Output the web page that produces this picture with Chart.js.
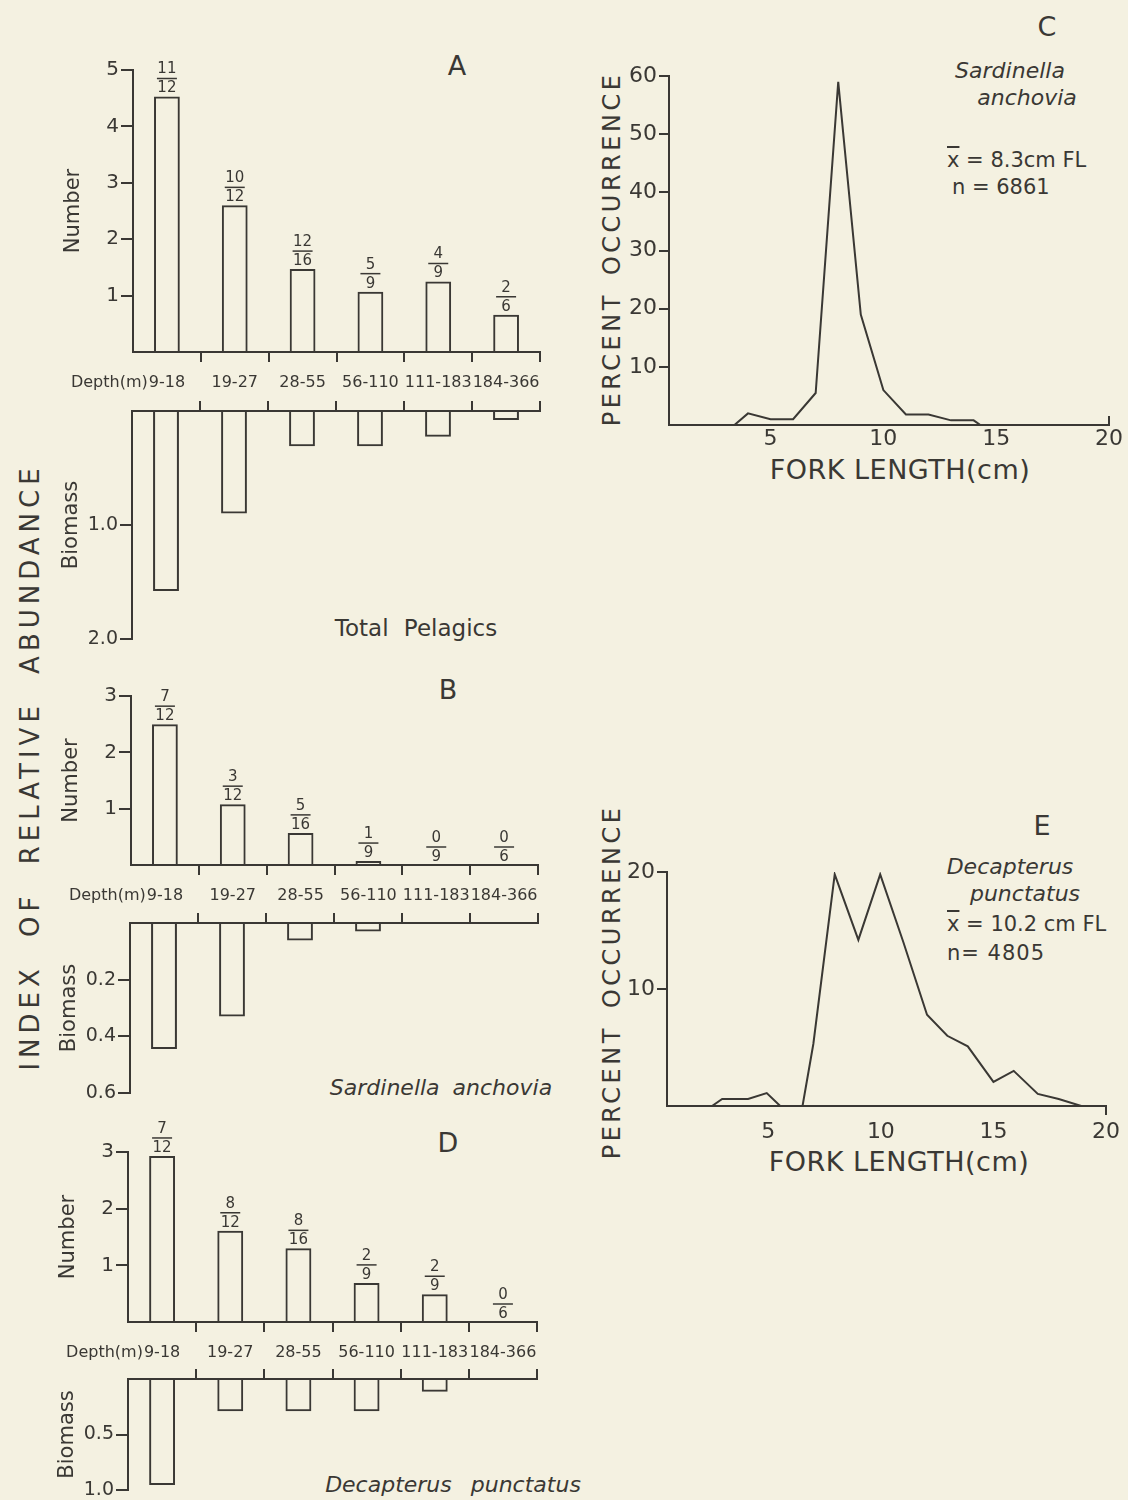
<!DOCTYPE html>
<html>
<head>
<meta charset="utf-8">
<script src="https://cdn.jsdelivr.net/npm/chart.js@4.4.0/dist/chart.umd.min.js"></script>
<style>
  body { margin: 0; background: #f4f1e1; }
  #page { position: relative; width: 1128px; height: 1500px; overflow: hidden; background: #f4f1e1;
          font-family: "DejaVu Sans", sans-serif; color: #3a3834; }
  canvas { position: absolute; }
  .t { position: absolute; white-space: nowrap; transform: translate(-50%, -50%); }
  .l { position: absolute; white-space: nowrap; transform: translate(0, -50%); }
  .v { position: absolute; white-space: nowrap; transform: translate(-50%, -50%) rotate(-90deg); }
  .i { font-style: italic; }
  .letter { font-size: 27px; }
  .ov { text-decoration: overline; }
</style>
</head>
<body>
<div id="page">
  <!-- panel letters -->
  <div class="t letter" style="left:457px;top:65px">A</div>
  <div class="t letter" style="left:448px;top:689px">B</div>
  <div class="t letter" style="left:448px;top:1142px">D</div>
  <div class="t letter" style="left:1047px;top:26px">C</div>
  <div class="t letter" style="left:1042px;top:825px">E</div>

  <!-- big side title -->
  <div class="v" style="left:30px;top:767px;font-size:26px;letter-spacing:5px;word-spacing:14px">INDEX OF RELATIVE ABUNDANCE</div>

  <!-- species captions, left column -->
  <div class="t" style="left:416px;top:628px;font-size:23px;word-spacing:8px">Total Pelagics</div>
  <div class="t i" style="left:441px;top:1087px;font-size:22px;word-spacing:6px">Sardinella anchovia</div>
  <div class="t i" style="left:453px;top:1484px;font-size:22px;word-spacing:12px">Decapterus punctatus</div>

  <!-- panel C text -->
  <div class="t i" style="left:1010px;top:70px;font-size:22px">Sardinella</div>
  <div class="t i" style="left:1027px;top:97px;font-size:22px">anchovia</div>
  <div class="l" style="left:947px;top:160px;font-size:21px"><span class="ov">x</span> = 8.3cm FL</div>
  <div class="l" style="left:952px;top:187px;font-size:21px">n = 6861</div>
  <div class="v" style="left:612px;top:249px;font-size:24px;letter-spacing:3.5px;word-spacing:6px">PERCENT OCCURRENCE</div>
  <div class="t" style="left:900px;top:469px;font-size:27px;letter-spacing:0.5px">FORK LENGTH(cm)</div>

  <!-- panel E text -->
  <div class="t i" style="left:1010px;top:866px;font-size:22px">Decapterus</div>
  <div class="t i" style="left:1025px;top:893px;font-size:22px">punctatus</div>
  <div class="l" style="left:947px;top:924px;font-size:21px"><span class="ov">x</span> = 10.2 cm FL</div>
  <div class="l" style="left:947px;top:953px;font-size:21px;letter-spacing:1px">n= 4805</div>
  <div class="v" style="left:612px;top:982px;font-size:24px;letter-spacing:3.5px;word-spacing:6px">PERCENT OCCURRENCE</div>
  <div class="t" style="left:899px;top:1161px;font-size:27px;letter-spacing:0.5px">FORK LENGTH(cm)</div>
</div>

<script>
// ---- data ----
const depthLabels = ["9-18", "19-27", "28-55", "56-110", "111-183", "184-366"];

const pelagicNumber = [4.53, 2.6, 1.47, 1.07, 1.25, 0.66];
const pelagicBiomass = [1.58, 0.9, 0.31, 0.31, 0.225, 0.08];
const pelagicFractions = ["11/12", "10/12", "12/16", "5/9", "4/9", "2/6"];

const sardNumber = [2.5, 1.08, 0.57, 0.07, 0, 0];
const sardBiomass = [0.445, 0.33, 0.062, 0.03, 0, 0];
const sardFractions = ["7/12", "3/12", "5/16", "1/9", "0/9", "0/6"];

const decapNumber = [2.93, 1.61, 1.3, 0.69, 0.49, 0];
const decapBiomass = [0.955, 0.29, 0.29, 0.29, 0.115, 0];
const decapFractions = ["7/12", "8/12", "8/16", "2/9", "2/9", "0/6"];

const numberTicksA = [1, 2, 3, 4, 5];
const numberTicksB = [1, 2, 3];
const numberTicksD = [1, 2, 3];
const biomassTicksA = [1.0, 2.0];
const biomassTicksB = [0.2, 0.4, 0.6];
const biomassTicksD = [0.5, 1.0];

const forkTicks = [5, 10, 15, 20];
const sardLength = [3.4, 4, 5, 6, 7, 8, 9, 10, 11, 12, 13, 14, 14.3];
const sardPercent = [0, 2, 1, 1, 5.5, 59, 19, 6, 1.8, 1.8, 0.8, 0.8, 0];
const percentTicksC = [10, 20, 30, 40, 50, 60];

const decapLength = [2.5, 2.95, 4.1, 4.93, 5.53, 6.52, 7, 7.95, 9, 9.97, 11, 12.05, 12.95, 13.86, 15, 15.9, 16.97, 17.9, 18.9];
const decapPercent = [0, 0.6, 0.6, 1.1, 0, 0, 5.3, 19.8, 14.2, 19.8, 14, 7.8, 6, 5.1, 2.06, 3, 1.03, 0.6, 0];
const percentTicksE = [10, 20];

// ---- look ----
const INK = "#3a3834";
const FONT = '"DejaVu Sans", sans-serif';
Chart.defaults.font.family = FONT;
Chart.defaults.color = INK;
Chart.defaults.animation = false;

function mkCanvas(area, pad) {
    const c = document.createElement("canvas");
    const w = area.r - area.l + pad.l + pad.r;
    const h = area.b - area.t + pad.t + pad.b;
    c.width = w;
    c.height = h;
    c.style.left = (area.l - pad.l) + "px";
    c.style.top = (area.t - pad.t) + "px";
    c.style.width = w + "px";
    c.style.height = h + "px";
    document.getElementById("page").appendChild(c);
    return c;
}

// numerator / bar / denominator above each bar
const fractionPlugin = {
    id: "fractions",
    afterDatasetsDraw(chart, args, opts) {
        if (!opts || !opts.labels) return;
        const ctx = chart.ctx;
        ctx.save();
        ctx.fillStyle = INK;
        ctx.strokeStyle = INK;
        ctx.lineWidth = 1.5;
        ctx.font = "15px " + FONT;
        ctx.textAlign = "center";
        ctx.textBaseline = "middle";
        chart.getDatasetMeta(0).data.forEach((bar, i) => {
            const parts = opts.labels[i].split("/");
            const top = bar.y;
            ctx.fillText(parts[0], bar.x, top - 27);
            ctx.beginPath();
            ctx.moveTo(bar.x - 10, top - 18);
            ctx.lineTo(bar.x + 10, top - 18);
            ctx.stroke();
            ctx.fillText(parts[1], bar.x, top - 8);
        });
        ctx.restore();
    }
};

// "Depth(m)" written just before the first depth class
const depthPrefix = {
    id: "depthPrefix",
    afterDraw(chart, args, opts) {
        if (!opts || !opts.text) return;
        const s = chart.scales.x;
        const ctx = chart.ctx;
        const size = s.options.ticks.font.size;
        ctx.save();
        ctx.font = size + "px " + FONT;
        ctx.fillStyle = INK;
        ctx.textAlign = "right";
        ctx.textBaseline = "middle";
        const first = s.getLabels()[0];
        const x0 = s.getPixelForValue(0) - ctx.measureText(first).width / 2;
        const y = s.top + s.options.grid.tickLength + s.options.ticks.padding + size * 0.6;
        ctx.fillText(opts.text, x0 - 1, y);
        ctx.restore();
    }
};

// short tick at the end of the length axis
const endTick = {
    id: "endTick",
    afterDraw(chart, args, opts) {
        if (!opts || !opts.dir) return;
        const s = chart.scales.x;
        const ctx = chart.ctx;
        const x = s.getPixelForValue(s.max);
        ctx.save();
        ctx.strokeStyle = INK;
        ctx.lineWidth = 2;
        ctx.beginPath();
        ctx.moveTo(x, s.top);
        ctx.lineTo(x, s.top + opts.dir * 9);
        ctx.stroke();
        ctx.restore();
    }
};

function boundaryGrid(tickLength) {
    return {
        offset: true,
        drawOnChartArea: false,
        drawTicks: true,
        tickLength: tickLength,
        lineWidth: 2,
        color: c => (c.index === 0 ? "rgba(0,0,0,0)" : INK)
    };
}

function barDataset(values) {
    return {
        data: values,
        backgroundColor: "rgba(0,0,0,0)",
        borderColor: INK,
        borderWidth: 2,
        borderSkipped: "start",
        barPercentage: 0.38,
        categoryPercentage: 1
    };
}

function numberChart(area, values, fractions, ticks) {
    const pad = { l: 100, t: 45, r: 25, b: 55 };
    const yw = 76, xh = 45;
    return new Chart(mkCanvas(area, pad), {
        type: "bar",
        data: { labels: depthLabels, datasets: [barDataset(values)] },
        options: {
            responsive: false,
            animation: false,
            layout: { padding: { left: pad.l - yw, top: pad.t, right: pad.r, bottom: pad.b - xh } },
            plugins: {
                legend: { display: false },
                tooltip: { enabled: false },
                fractions: { labels: fractions },
                depthPrefix: { text: "Depth(m)" }
            },
            scales: {
                x: {
                    type: "category",
                    position: "bottom",
                    offset: true,
                    grid: boundaryGrid(10),
                    border: { display: true, color: INK, width: 2 },
                    ticks: { font: { size: 16 }, color: INK, padding: 11, maxRotation: 0, autoSkip: false },
                    afterFit: s => { s.height = xh; }
                },
                y: {
                    min: 0,
                    max: ticks[ticks.length - 1],
                    grid: { drawOnChartArea: false, tickLength: 12, lineWidth: 2, color: INK },
                    border: { display: true, color: INK, width: 2 },
                    ticks: { font: { size: 20 }, color: INK, padding: 2 },
                    afterBuildTicks: s => { s.ticks = ticks.map(v => ({ value: v })); },
                    title: { display: true, text: "Number", font: { size: 21 }, color: INK, padding: { top: 4, bottom: 4 } },
                    afterFit: s => { s.width = yw; }
                }
            }
        },
        plugins: [fractionPlugin, depthPrefix]
    });
}

function biomassChart(area, values, ticks) {
    const pad = { l: 100, t: 25, r: 25, b: 25 };
    const yw = 77, xh = 12;
    return new Chart(mkCanvas(area, pad), {
        type: "bar",
        data: { labels: depthLabels, datasets: [barDataset(values)] },
        options: {
            responsive: false,
            animation: false,
            layout: { padding: { left: pad.l - yw, top: pad.t - xh, right: pad.r, bottom: pad.b } },
            plugins: { legend: { display: false }, tooltip: { enabled: false } },
            scales: {
                x: {
                    type: "category",
                    position: "top",
                    offset: true,
                    grid: boundaryGrid(10),
                    border: { display: true, color: INK, width: 2 },
                    ticks: { display: false },
                    afterFit: s => { s.height = xh; }
                },
                y: {
                    reverse: true,
                    min: 0,
                    max: ticks[ticks.length - 1],
                    grid: { drawOnChartArea: false, tickLength: 12, lineWidth: 2, color: INK },
                    border: { display: true, color: INK, width: 2 },
                    ticks: { font: { size: 19 }, color: INK, padding: 2, callback: v => v.toFixed(1) },
                    afterBuildTicks: s => { s.ticks = ticks.map(v => ({ value: v })); },
                    title: { display: true, text: "Biomass", font: { size: 21 }, color: INK, padding: { top: 4, bottom: 4 } },
                    afterFit: s => { s.width = yw; }
                }
            }
        }
    });
}

function lengthChart(area, xs, ys, yTicks, labelPad, tickDir) {
    const pad = { l: 60, t: 20, r: 25, b: 45 };
    const yw = 55, xh = 40;
    return new Chart(mkCanvas(area, pad), {
        type: "line",
        data: {
            datasets: [{
                data: xs.map((x, i) => ({ x: x, y: ys[i] })),
                borderColor: INK,
                borderWidth: 2,
                pointRadius: 0,
                tension: 0,
                fill: false
            }]
        },
        options: {
            responsive: false,
            animation: false,
            layout: { padding: { left: pad.l - yw, top: pad.t, right: pad.r, bottom: pad.b - xh } },
            plugins: { legend: { display: false }, tooltip: { enabled: false }, endTick: { dir: tickDir } },
            scales: {
                x: {
                    type: "linear",
                    min: 0.5,
                    max: 20,
                    grid: { drawOnChartArea: false, drawTicks: false },
                    border: { display: true, color: INK, width: 2 },
                    ticks: { font: { size: 22 }, color: INK, padding: labelPad },
                    afterBuildTicks: s => { s.ticks = forkTicks.map(v => ({ value: v })); },
                    afterFit: s => { s.height = xh; }
                },
                y: {
                    min: 0,
                    max: yTicks[yTicks.length - 1],
                    grid: { drawOnChartArea: false, tickLength: 10, lineWidth: 2, color: INK },
                    border: { display: true, color: INK, width: 2 },
                    ticks: { font: { size: 22 }, color: INK, padding: 2 },
                    afterBuildTicks: s => { s.ticks = yTicks.map(v => ({ value: v })); },
                    afterFit: s => { s.width = yw; }
                }
            }
        },
        plugins: [endTick]
    });
}

// ---- panels (chart areas in page pixels) ----
numberChart({ l: 133, t: 70, r: 540, b: 352 }, pelagicNumber, pelagicFractions, numberTicksA);
biomassChart({ l: 132, t: 411, r: 540, b: 639 }, pelagicBiomass, biomassTicksA);

numberChart({ l: 131, t: 696, r: 538, b: 865 }, sardNumber, sardFractions, numberTicksB);
biomassChart({ l: 130, t: 923, r: 538, b: 1093 }, sardBiomass, biomassTicksB);

numberChart({ l: 128, t: 1152, r: 537, b: 1322 }, decapNumber, decapFractions, numberTicksD);
biomassChart({ l: 128, t: 1379, r: 537, b: 1490 }, decapBiomass, biomassTicksD);

lengthChart({ l: 669, t: 76, r: 1109, b: 425 }, sardLength, sardPercent, percentTicksC, 1, -1);
lengthChart({ l: 667, t: 872, r: 1108, b: 1106 }, decapLength, decapPercent, percentTicksE, 13, 1);
</script>
</body>
</html>
